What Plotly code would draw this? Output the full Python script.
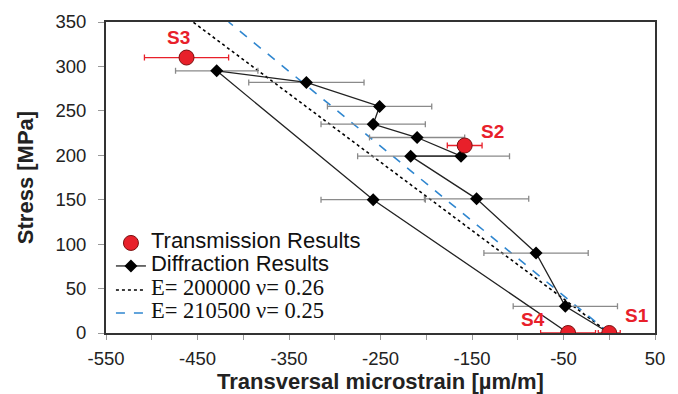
import plotly.graph_objects as go

# Transmission results (S1, S2, S3, S4)
trans_labels = ["S1", "S2", "S3", "S4"]
trans_strain = [0, -158, -462, -45]
trans_stress = [0, 211, 310, 0]
trans_err = [12, 19, 46, 30]

# Diffraction results (path order)
diff_strain = [0, -48, -80, -145, -217, -162, -210, -258, -251, -331, -429, -258, -45]
diff_stress = [0, 30, 90, 151, 199, 199, 220, 235, 255, 282, 295, 150, 0]
diff_err = [0, 57, 57, 57, 58, 53, 52, 57, 57, 63, 45, 57, 0]

# Theoretical lines (end points)
e200_strain = [0, -455]
e200_stress = [0, 350]
e210_strain = [0, -416]
e210_stress = [0, 350]

# Label positions for S annotations
label_strain = [30, -128, -471, -83]
label_stress = [20, 227, 332, 15]

x_tickvals = list(range(-550, 51, 50))
x_ticktext = [str(v) if (v + 550) % 100 == 0 else "" for v in x_tickvals]
y_tickvals = list(range(0, 351, 50))

RED = "#E8202A"
SANS = '<span style="font-size:22px">{}</span>'
SERIF = '<span style="font-family:Liberation Serif, Times New Roman, serif;font-size:22.5px">{}</span>'

fig = go.Figure()

fig.add_trace(go.Scatter(
    x=e200_strain, y=e200_stress, mode="lines",
    line=dict(color="black", width=1.6, dash="dot"),
    name=SERIF.format("E= 200000 ν= 0.26"),
    legend="legend3",
))
fig.add_trace(go.Scatter(
    x=e210_strain, y=e210_stress, mode="lines",
    line=dict(color="#2F86CF", width=1.6, dash="dash"),
    name=SERIF.format("E= 210500 ν= 0.25"),
    legend="legend4",
))
fig.add_trace(go.Scatter(
    x=diff_strain, y=diff_stress, mode="lines+markers",
    line=dict(color="#222222", width=1.3),
    marker=dict(symbol="diamond", size=10, color="black"),
    error_x=dict(type="data", array=diff_err, color="#8a8a8a", thickness=1.3, width=3),
    name=SANS.format("Diffraction Results"),
    legend="legend2",
))
fig.add_trace(go.Scatter(
    x=trans_strain, y=trans_stress, mode="markers",
    marker=dict(symbol="circle", size=15, color=RED, line=dict(color="#7a1010", width=1)),
    error_x=dict(type="data", array=trans_err, color=RED, thickness=1.3, width=3),
    name=SANS.format("Transmission Results"),
    legend="legend",
))

for lab, lx, ly in zip(trans_labels, label_strain, label_stress):
    fig.add_annotation(x=lx, y=ly, text="<b>" + lab + "</b>", showarrow=False,
                       font=dict(family="Liberation Sans, Arial", size=19, color=RED))

def leg(py):
    return dict(x=0.009, y=(333 - py) / 311, xanchor="left", yanchor="middle",
                bgcolor="rgba(0,0,0,0)", font=dict(size=13, color="#111111"),
                itemwidth=30)

fig.update_layout(
    width=678, height=394,
    margin=dict(l=106, r=23, t=22, b=61),
    paper_bgcolor="white", plot_bgcolor="white",
    font=dict(family="Liberation Sans, Arial", size=18, color="#222222"),
    showlegend=True,
    legend=leg(243),
    legend2=leg(266),
    legend3=leg(290),
    legend4=leg(313),
    xaxis=dict(range=[-550, 50], tickvals=x_tickvals, ticktext=x_ticktext,
               ticks="outside", ticklen=5, tickcolor="#999999",
               showgrid=False, zeroline=False, automargin=False,
               showline=True, linecolor="#333333", linewidth=2, mirror=True,
               tickfont=dict(size=18.5), ticklabelstandoff=3,
               title=dict(text="<b>Transversal microstrain [µm/m]</b>", font=dict(size=22, color="#222222"), standoff=10)),
    yaxis=dict(range=[0, 350], tickvals=y_tickvals,
               ticks="outside", ticklen=6, tickcolor="#999999",
               showgrid=False, zeroline=False, automargin=False,
               showline=True, linecolor="#333333", linewidth=2, mirror=True,
               tickfont=dict(size=18.5), ticklabelstandoff=8,
               title=dict(text="<b>Stress [MPa]</b>", font=dict(size=22, color="#222222"), standoff=16)),
)

fig.write_html("out.html", config={"displayModeBar": False},
               post_script=["document.body.style.margin='0';"])
